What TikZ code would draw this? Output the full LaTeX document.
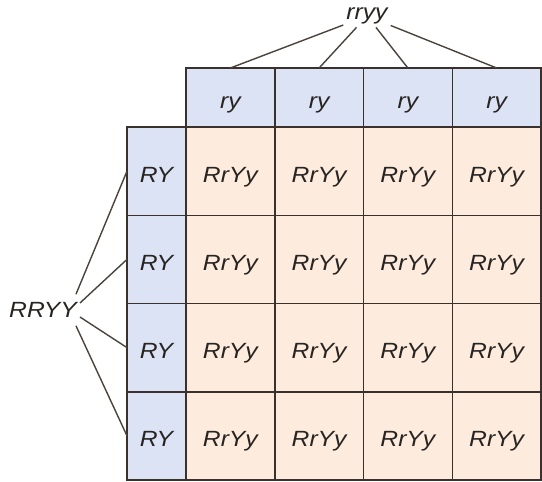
\documentclass[tikz,border=0pt]{standalone}
\usepackage{fontspec}
\setmainfont[FakeStretch=1.12]{Liberation Sans}
\definecolor{hdr}{RGB}{220,227,245}
\definecolor{body}{RGB}{253,236,222}
\definecolor{edge}{RGB}{58,48,44}
\definecolor{ink}{RGB}{40,36,34}
\definecolor{conn}{RGB}{75,66,60}
\tikzset{
  cellbase/.style={draw=edge, line width=1.5pt, inner sep=0pt, outer sep=0pt, text=ink,
    text height=22pt, text depth=0pt,
    font=\fontsize{22}{26}\selectfont\itshape},
  hdrcell/.style={cellbase, fill=hdr, minimum width=88.75pt, minimum height=59pt},
  leftcell/.style={cellbase, fill=hdr, minimum width=59pt, minimum height=88.25pt},
  bodycell/.style={cellbase, fill=body, minimum width=88.75pt, minimum height=88.25pt},
  parent/.style={text=ink, inner sep=3pt, font=\fontsize{22}{26}\selectfont\itshape},
  link/.style={draw=conn, line width=1.4pt},
  frame/.style={draw=edge, line width=2.4pt}
}
\begin{document}
\begin{tikzpicture}[x=1pt,y=-1pt]
\useasboundingbox (0,0) rectangle (542,482);
\foreach \i in {1,...,4}{
  \node[hdrcell] (h\i) at ({186+(\i-0.5)*88.75},97.5) {ry};
  \node[leftcell] (l\i) at (156.5,{127+(\i-0.5)*88.25}) {RY};
  \foreach \j in {1,...,4}{
    \node[bodycell] (c\j\i) at ({186+(\i-0.5)*88.75},{127+(\j-0.5)*88.25}) {RrYy};
  }
}
\draw[frame] (h1.north west) rectangle (h4.south east);
\draw[frame] (l1.north west) rectangle (l4.south east);
\draw[frame] (c11.north west) rectangle (c44.south east);
\node[parent] (p1) at (367,16) {rryy};
\node[parent] (p2) at (43,310) {RRYY};
\coordinate (q1) at ([xshift=-4pt,yshift=5pt]p2.north east);
\coordinate (q2) at ([yshift=7pt]p2.east);
\coordinate (q3) at ([yshift=-7pt]p2.east);
\coordinate (q4) at ([xshift=-4pt,yshift=-5pt]p2.south east);
\foreach \i in {1,...,4}{
  \draw[link] (p1) -- (h\i.north);
  \draw[link] (q\i) -- (l\i.west);
}
\end{tikzpicture}
\end{document}
